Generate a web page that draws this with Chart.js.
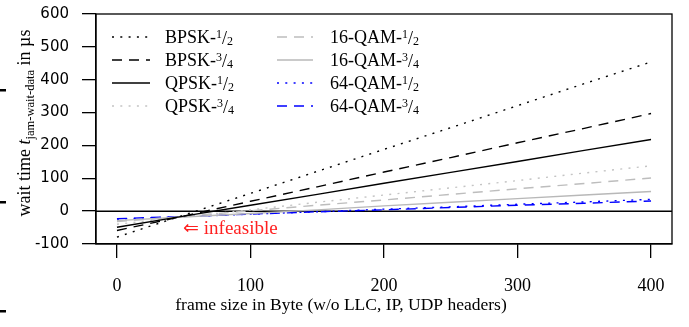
<!DOCTYPE html>
<html><head><meta charset="utf-8">
<script src="https://cdn.jsdelivr.net/npm/chart.js@4/dist/chart.umd.min.js"></script>
<style>html,body{margin:0;padding:0;background:#fff}#wrap{width:689px;height:327px;position:relative}</style>
</head><body><div id="wrap"><canvas id="c" width="689" height="327"></canvas></div>
<script>
// ---- data ----
const frameSizes = [0, 50, 100, 150, 200, 250, 300, 350, 400];
const bpsk12  = [-79, -12, 54, 121, 188, 254, 321, 388, 454];
const bpsk34  = [-59, -15, 30, 74, 119, 163, 208, 252, 297];
const qpsk12  = [-49, -15, 18, 51, 85, 118, 151, 185, 218];
const qpsk34  = [-40, -18, 4, 27, 49, 71, 93, 116, 138];
const qam16_12 = [-32, -16, 1, 18, 34, 51, 68, 84, 101];
const qam16_34 = [-29, -18, -7, 4, 16, 27, 38, 49, 60];
const qam64_12 = [-24, -17, -9, -2, 6, 13, 21, 28, 36];
const qam64_34 = [-23, -16, -9, -2, 4, 11, 18, 24, 31];

const seriesBase = ['BPSK-', 'BPSK-', 'QPSK-', 'QPSK-', '16-QAM-', '16-QAM-', '64-QAM-', '64-QAM-'];
const seriesNum  = ['1', '3', '1', '3', '1', '3', '1', '3'];
const seriesDen  = ['2', '4', '2', '4', '2', '4', '2', '4'];
const xTickValues = [0, 100, 200, 300, 400];
const yTickValues = [-100, 0, 100, 200, 300, 400, 500, 600];
const xTitle = 'frame size in Byte (w/o LLC, IP, UDP headers)';
const yTitleParts = ['wait time ', 't', 'jam-wait-data', ' in µs'];
const noteText = '⇐ infeasible';

const allSeries = [bpsk12, bpsk34, qpsk12, qpsk34, qam16_12, qam16_34, qam64_12, qam64_34];
const styles = [
  {c: '#000000', d: [2, 6.3]},
  {c: '#000000', d: [10, 7]},
  {c: '#000000', d: []},
  {c: '#c4c4c4', d: [2, 6.3]},
  {c: '#bdbdbd', d: [10, 7]},
  {c: '#b8b8b8', d: []},
  {c: '#0000ff', d: [2, 6.3]},
  {c: '#0000ff', d: [10, 7]}
];

const FONT = '"Liberation Serif", "Times New Roman", serif';
const SANS = '"DejaVu Sans", sans-serif';

const datasets = allSeries.map((vals, i) => ({
  label: seriesBase[i] + seriesNum[i] + '/' + seriesDen[i],
  data: frameSizes.map((x, j) => ({x: x, y: vals[j]})),
  borderColor: styles[i].c,
  borderDash: styles[i].d,
  borderWidth: 1.4,
  pointRadius: 0,
  fill: false,
  tension: 0
}));

const decor = {
  id: 'decor',
  beforeDatasetsDraw(chart) {
    const ctx = chart.ctx, a = chart.chartArea, y = chart.scales.y;
    const y0 = y.getPixelForValue(0);
    ctx.save();
    ctx.strokeStyle = '#000'; ctx.lineWidth = 1.5;
    ctx.beginPath(); ctx.moveTo(a.left, y0); ctx.lineTo(a.right, y0); ctx.stroke();
    ctx.restore();
  },
  afterDraw(chart) {
    const ctx = chart.ctx, a = chart.chartArea, xs = chart.scales.x, ys = chart.scales.y;
    ctx.save();
    // box
    ctx.strokeStyle = '#000'; ctx.lineWidth = 1.3;
    ctx.strokeRect(a.left, a.top, a.right - a.left, a.bottom - a.top);
    // stray marks at left edge
    ctx.fillStyle = '#000';
    [90, 202, 311].forEach(yy => ctx.fillRect(0, yy - 1, 6, 2.5));
    // infeasible note
    ctx.fillStyle = '#ff2020';
    ctx.font = '19px ' + FONT;
    ctx.textAlign = 'left'; ctx.textBaseline = 'middle';
    ctx.fillText(noteText, xs.getPixelForValue(49.5), ys.getPixelForValue(-54));
    // x title
    ctx.fillStyle = '#000';
    ctx.font = '17.5px ' + FONT;
    ctx.textAlign = 'center';
    ctx.fillText(xTitle, 341, 305);
    // y title rotated
    ctx.translate(24, 123);
    ctx.rotate(-Math.PI / 2);
    const fonts = ['18px ' + FONT, 'italic 18px ' + FONT, '12.5px ' + FONT, '18px ' + FONT];
    const offs = [0, 0, 4, 0];
    let total = 0;
    yTitleParts.forEach((p, i) => { ctx.font = fonts[i]; total += ctx.measureText(p).width; });
    let px = -total / 2;
    ctx.textAlign = 'left'; ctx.textBaseline = 'alphabetic';
    yTitleParts.forEach((p, i) => {
      ctx.font = fonts[i];
      ctx.fillText(p, px, 6 + offs[i]);
      px += ctx.measureText(p).width;
    });
    ctx.restore();
    // legend
    ctx.save();
    const cols = [{sx: 112, ex: 150, tx: 165}, {sx: 277, ex: 313, tx: 330}];
    const rows = [37, 60, 83, 106];
    chart.data.datasets.forEach((ds, i) => {
      const col = cols[Math.floor(i / 4)], ry = rows[i % 4];
      ctx.strokeStyle = ds.borderColor; ctx.lineWidth = 1.4;
      ctx.setLineDash(ds.borderDash);
      ctx.beginPath(); ctx.moveTo(col.sx, ry); ctx.lineTo(col.ex, ry); ctx.stroke();
      ctx.setLineDash([]);
      ctx.fillStyle = '#000'; ctx.textBaseline = 'alphabetic'; ctx.textAlign = 'left';
      let tx = col.tx;
      const base = ry + 6;
      ctx.font = '18px ' + FONT;
      ctx.fillText(seriesBase[i], tx, base); tx += ctx.measureText(seriesBase[i]).width;
      ctx.font = '12px ' + FONT;
      ctx.fillText(seriesNum[i], tx, base - 5); tx += ctx.measureText(seriesNum[i]).width;
      ctx.font = '18px ' + FONT;
      ctx.fillText('/', tx, base + 1); tx += ctx.measureText('/').width;
      ctx.font = '12px ' + FONT;
      ctx.fillText(seriesDen[i], tx, base + 2);
    });
    ctx.restore();
  }
};

new Chart(document.getElementById('c'), {
  type: 'line',
  data: {datasets: datasets},
  options: {
    responsive: false,
    devicePixelRatio: 1,
    animation: false,
    layout: {padding: {left: 0, right: 17, top: 14, bottom: 0}},
    plugins: {legend: {display: false}, tooltip: {enabled: false}},
    scales: {
      x: {
        type: 'linear', min: -15.7, max: 415.7,
        afterBuildTicks: s => { s.ticks = xTickValues.map(v => ({value: v})); },
        afterFit: s => { s.height = 83; s.paddingLeft = 0; s.paddingRight = 0; },
        grid: {drawOnChartArea: false, drawTicks: true, tickLength: 14, color: '#000', lineWidth: 1.3},
        border: {display: true, color: '#000', width: 1.3},
        ticks: {color: '#000', font: {family: FONT, size: 18}, padding: 17, maxRotation: 0}
      },
      y: {
        type: 'linear', min: -100, max: 600,
        afterBuildTicks: s => { s.ticks = yTickValues.map(v => ({value: v})); },
        afterFit: s => { s.width = 96; s.paddingTop = 0; s.paddingBottom = 0; },
        grid: {drawOnChartArea: false, drawTicks: true, tickLength: 14, color: '#000', lineWidth: 1.3},
        border: {display: true, color: '#000', width: 1.3},
        ticks: {color: '#000', font: {family: SANS, size: 15}, padding: 13}
      }
    }
  },
  plugins: [decor]
});
</script>
</body></html>
